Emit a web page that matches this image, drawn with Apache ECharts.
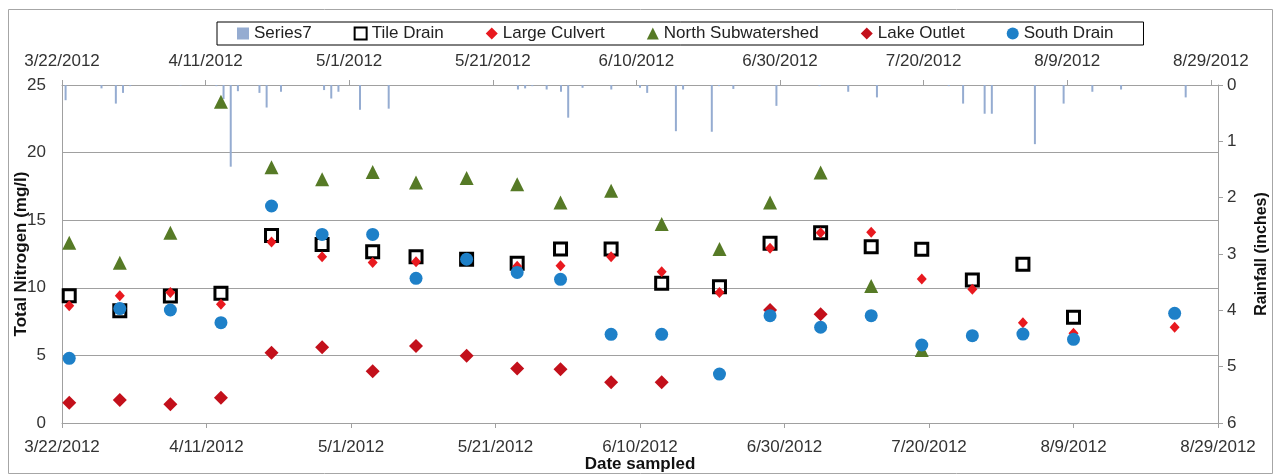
<!DOCTYPE html>
<html>
<head>
<meta charset="utf-8">
<script src="https://cdn.jsdelivr.net/npm/echarts@6/dist/echarts.min.js"></script>
<style>
html,body{margin:0;padding:0;background:#fff;}
#chart{width:1275px;height:476px;}
</style>
</head>
<body>
<div id="chart"></div>
<script>
// ---- Data ----
const ORIGIN = '2012-03-22';
const SAMPLE_DATES = ['2012-03-23','2012-03-30','2012-04-06','2012-04-13','2012-04-20','2012-04-27','2012-05-04','2012-05-10','2012-05-17','2012-05-24','2012-05-30','2012-06-06','2012-06-13','2012-06-21','2012-06-28','2012-07-05','2012-07-12','2012-07-19','2012-07-26','2012-08-02','2012-08-09','2012-08-23'];
const TILE_DRAIN = [9.42, 8.31, 9.39, 9.59, 13.86, 13.21, 12.67, 12.30, 12.11, 11.81, 12.87, 12.87, 10.33, 10.08, 13.29, 14.08, 13.04, 12.85, 10.58, 11.74, 7.82, null];
const LARGE_CULVERT = [8.68, 9.42, 9.66, 8.78, 13.39, 12.30, 11.88, 11.93, 12.1, 11.6, 11.64, 12.30, 11.19, 9.66, 12.92, 14.08, 14.10, 10.65, 9.89, 7.42, 6.63, 7.08];
const NORTH_SUB = [13.34, 11.86, 14.08, 23.77, 18.91, 18.02, 18.57, 17.78, 18.12, 17.65, 16.30, 17.18, 14.72, 12.87, 16.30, 18.52, 10.13, 5.40, null, null, null, null];
const LAKE_OUTLET = [1.50, 1.70, 1.38, 1.87, 5.20, 5.60, 3.82, 5.70, 4.98, 4.04, 3.97, 3.01, 3.01, null, 8.36, 8.04, null, null, null, null, null, null];
const SOUTH_DRAIN = [4.78, 8.46, 8.36, 7.42, 16.05, 13.95, 13.95, 10.70, 12.11, 11.14, 10.63, 6.56, 6.56, 3.62, 7.94, 7.08, 7.94, 5.77, 6.46, 6.58, 6.19, 8.11];

const RAIN_DATES = ['2012-03-22','2012-03-27','2012-03-29','2012-03-30','2012-03-31','2012-04-07','2012-04-12','2012-04-13','2012-04-14','2012-04-15','2012-04-18','2012-04-19','2012-04-21','2012-04-27','2012-04-28','2012-04-29','2012-05-02','2012-05-06','2012-05-24','2012-05-25','2012-05-26','2012-05-28','2012-05-30','2012-05-31','2012-06-02','2012-06-06','2012-06-10','2012-06-11','2012-06-15','2012-06-16','2012-06-20','2012-06-21','2012-06-23','2012-06-29','2012-07-05','2012-07-09','2012-07-13','2012-07-23','2012-07-25','2012-07-28','2012-07-29','2012-08-04','2012-08-08','2012-08-12','2012-08-16','2012-08-25'];
const RAINFALL = [0.27, 0.06, 0.33, 0.14, 0.02, 0.01, 0.02, 0.25, 1.45, 0.11, 0.14, 0.40, 0.12, 0.09, 0.24, 0.12, 0.44, 0.42, 0.08, 0.06, 0.02, 0.08, 0.12, 0.58, 0.05, 0.08, 0.05, 0.14, 0.82, 0.08, 0.83, 0.02, 0.07, 0.37, 0.02, 0.12, 0.22, 0.02, 0.33, 0.51, 0.51, 1.05, 0.33, 0.12, 0.08, 0.22];

const X_TICK_DAYS = 20;
const X_SPAN_BOTTOM = 160;   // 3/22 .. 8/29
const X_SPAN_TOP = 161;      // date axis of the column series ends one day later
const Y_LEFT = {min: 0, max: 25, interval: 5};
const Y_RIGHT = {min: 0, max: 6, interval: 1};

// ---- Helpers ----
function parse(s){ const p = s.split('-').map(Number); return Date.UTC(p[0], p[1]-1, p[2]); }
const T0 = parse(ORIGIN);
function dayOf(s){ return Math.round((parse(s) - T0) / 86400000); }
function dateLabel(v){
  const d = new Date(T0 + v * 86400000);
  return (d.getUTCMonth()+1) + '/' + d.getUTCDate() + '/' + d.getUTCFullYear();
}
function pts(arr){ return SAMPLE_DATES.map((d,i)=> arr[i]==null ? null : [dayOf(d), arr[i]]).filter(Boolean); }

const FONT = 'Liberation Sans';
const LABEL_COLOR = '#333';
const AXIS_COLOR = '#a0a0a0';

const chart = echarts.init(document.getElementById('chart'), null, {renderer:'canvas'});
chart.setOption({
  animation: false,
  backgroundColor: '#fff',
  textStyle: {fontFamily: FONT},
  graphic: [{
    type: 'rect', left: 6, top: 7, silent: true,
    shape: {width: 1264, height: 464},
    style: {fill: 'none', stroke: '#a6a6a6', lineWidth: 1}
  }],
  legend: {
    left: 217, top: 22,
    padding: [3, 30, 3, 20],
    itemGap: 42,
    itemWidth: 12, itemHeight: 12,
    borderColor: '#000', borderWidth: 1,
    textStyle: {fontFamily: FONT, fontSize: 17, color: '#222'},
    data: [
      {name: 'Series7', icon: 'rect', itemStyle: {color: '#95acd1'}},
      'Tile Drain', 'Large Culvert', 'North Subwatershed', 'Lake Outlet', 'South Drain'
    ]
  },
  grid: {left: 62, right: 57, top: 85, bottom: 53, containLabel: false, outerBoundsMode: 'none'},
  xAxis: [{
    type: 'value', position: 'bottom',
    min: 0, max: X_SPAN_BOTTOM, interval: X_TICK_DAYS,
    name: 'Date sampled', nameLocation: 'middle', nameGap: 33, nameMoveOverlap: false,
    nameTextStyle: {fontFamily: FONT, fontSize: 17, fontWeight: 'bold', color: '#111'},
    axisLine: {show: true, onZero: false, lineStyle: {color: AXIS_COLOR}},
    axisTick: {show: true, length: 5, lineStyle: {color: AXIS_COLOR}},
    axisLabel: {fontFamily: FONT, fontSize: 17, color: LABEL_COLOR, margin: 16, formatter: dateLabel},
    splitLine: {show: false}
  }, {
    type: 'value', position: 'top',
    min: 0, max: X_SPAN_TOP, interval: X_TICK_DAYS,
    axisLine: {show: true, onZero: false, lineStyle: {color: AXIS_COLOR}},
    axisTick: {show: true, length: 5, lineStyle: {color: AXIS_COLOR}},
    axisLabel: {fontFamily: FONT, fontSize: 17, color: LABEL_COLOR, margin: 15,
      showMaxLabel: false,
      formatter: v => (v % X_TICK_DAYS === 0 ? dateLabel(v) : '')},
    splitLine: {show: false}
  }],
  yAxis: [{
    type: 'value', position: 'left',
    min: Y_LEFT.min, max: Y_LEFT.max, interval: Y_LEFT.interval,
    name: 'Total Nitrogen (mg/l)', nameLocation: 'middle', nameGap: 32, nameMoveOverlap: false,
    nameTextStyle: {fontFamily: FONT, fontSize: 17, fontWeight: 'bold', color: '#111'},
    axisLine: {show: true, onZero: false, lineStyle: {color: AXIS_COLOR}},
    axisTick: {show: false},
    axisLabel: {fontFamily: FONT, fontSize: 17, color: LABEL_COLOR, margin: 16},
    splitLine: {show: true, lineStyle: {color: AXIS_COLOR, width: 1}}
  }, {
    type: 'value', position: 'right', inverse: true,
    min: Y_RIGHT.min, max: Y_RIGHT.max, interval: Y_RIGHT.interval,
    name: 'Rainfall (inches)', nameLocation: 'middle', nameGap: 36, nameMoveOverlap: false,
    nameTextStyle: {fontFamily: FONT, fontSize: 16, fontWeight: 'bold', color: '#111'},
    axisLine: {show: true, onZero: false, lineStyle: {color: AXIS_COLOR}},
    axisTick: {show: true, length: 5, lineStyle: {color: AXIS_COLOR}},
    axisLabel: {fontFamily: FONT, fontSize: 17, color: LABEL_COLOR, margin: 9},
    splitLine: {show: false}
  }],
  series: [{
    name: 'Series7', type: 'bar', xAxisIndex: 1, yAxisIndex: 1,
    barWidth: 2,
    itemStyle: {color: '#95acd1'},
    // columns sit in the middle of their one-day slot on the date axis
    data: RAIN_DATES.map((d,i)=>[dayOf(d) + 0.5, RAINFALL[i]])
  }, {
    name: 'Tile Drain', type: 'scatter', symbol: 'rect', symbolSize: 12,
    itemStyle: {color: 'rgba(255,255,255,0)', borderColor: '#000', borderWidth: 3, opacity: 1},
    data: pts(TILE_DRAIN)
  }, {
    name: 'Large Culvert', type: 'scatter', symbol: 'diamond', symbolSize: [10, 11],
    itemStyle: {color: '#e8191f', opacity: 1},
    data: pts(LARGE_CULVERT)
  }, {
    name: 'North Subwatershed', type: 'scatter', symbol: 'triangle', symbolSize: 14,
    itemStyle: {color: '#567a26', opacity: 1},
    data: pts(NORTH_SUB)
  }, {
    name: 'Lake Outlet', type: 'scatter', symbol: 'diamond', symbolSize: 14,
    itemStyle: {color: '#c3101b', opacity: 1},
    data: pts(LAKE_OUTLET)
  }, {
    name: 'South Drain', type: 'scatter', symbol: 'circle', symbolSize: 13,
    itemStyle: {color: '#1e80c8', opacity: 1},
    data: pts(SOUTH_DRAIN)
  }]
});
</script>
</body>
</html>
